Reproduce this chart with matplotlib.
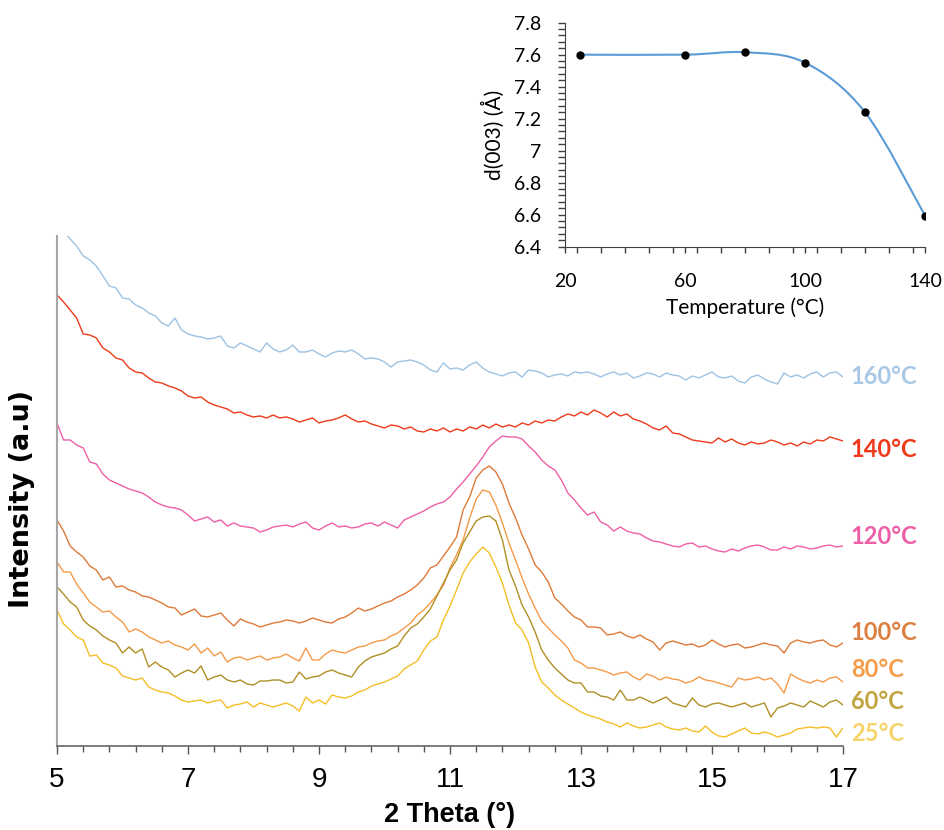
import matplotlib
matplotlib.use("Agg")
import matplotlib.pyplot as plt
import numpy as np
from matplotlib.path import Path
from matplotlib.patches import PathPatch
from matplotlib.ticker import MultipleLocator, FixedLocator, FuncFormatter

# XRD patterns, 2 theta grid (degrees) and intensities (a.u.)
two_theta = [5.0, 5.1, 5.2, 5.3, 5.4, 5.5, 5.6, 5.7, 5.8, 5.9,
             6.0, 6.1, 6.2, 6.3, 6.4, 6.5, 6.6, 6.7, 6.8, 6.9,
             7.0, 7.1, 7.2, 7.3, 7.4, 7.5, 7.6, 7.7, 7.8, 7.9,
             8.0, 8.1, 8.2, 8.3, 8.4, 8.5, 8.6, 8.7, 8.8, 8.9,
             9.0, 9.1, 9.2, 9.3, 9.4, 9.5, 9.6, 9.7, 9.8, 9.9,
             10.0, 10.1, 10.2, 10.3, 10.4, 10.5, 10.6, 10.7, 10.8, 10.9,
             11.0, 11.1, 11.2, 11.3, 11.4, 11.5, 11.6, 11.7, 11.8, 11.9,
             12.0, 12.1, 12.2, 12.3, 12.4, 12.5, 12.6, 12.7, 12.8, 12.9,
             13.0, 13.1, 13.2, 13.3, 13.4, 13.5, 13.6, 13.7, 13.8, 13.9,
             14.0, 14.1, 14.2, 14.3, 14.4, 14.5, 14.6, 14.7, 14.8, 14.9,
             15.0, 15.1, 15.2, 15.3, 15.4, 15.5, 15.6, 15.7, 15.8, 15.9,
             16.0, 16.1, 16.2, 16.3, 16.4, 16.5, 16.6, 16.7, 16.8, 16.9,
             17.0]

i_160 = [522, 514, 507, 500, 490, 486, 480, 470, 460, 458,
         448, 447, 441, 438, 433, 430, 423, 420, 428, 416,
         412, 410, 409, 407, 408, 410, 400, 398, 403, 400,
         397, 394, 403, 397, 394, 396, 401, 394, 394, 396,
         392, 389, 393, 395, 394, 396, 392, 387, 388, 387,
         384, 379, 384, 385, 386, 384, 381, 376, 374, 383,
         377, 378, 376, 381, 384, 378, 374, 372, 370, 373,
         374, 369, 376, 375, 373, 369, 371, 372, 370, 374,
         373, 374, 372, 369, 372, 374, 371, 373, 368, 370,
         373, 372, 369, 373, 371, 370, 366, 370, 368, 371,
         374, 369, 368, 370, 365, 363, 369, 371, 367, 364,
         362, 373, 369, 371, 368, 372, 374, 369, 373, 374,
         369]
i_140 = [451, 444, 436, 428, 412, 411, 408, 398, 394, 388,
         386, 378, 374, 373, 368, 364, 363, 360, 358, 355,
         350, 348, 349, 344, 341, 339, 337, 333, 334, 331,
         329, 330, 328, 331, 328, 329, 327, 324, 326, 328,
         323, 325, 326, 328, 331, 327, 324, 325, 322, 320,
         318, 321, 320, 317, 319, 315, 314, 317, 315, 318,
         314, 317, 315, 319, 317, 321, 318, 322, 319, 321,
         319, 323, 321, 325, 323, 326, 325, 329, 332, 330,
         334, 331, 336, 333, 329, 334, 330, 332, 327, 325,
         322, 318, 316, 320, 313, 312, 309, 306, 305, 304,
         303, 308, 304, 307, 303, 301, 304, 302, 303, 306,
         304, 301, 303, 300, 304, 302, 306, 305, 309, 307,
         305]
i_120 = [323, 306, 306, 301, 298, 284, 282, 272, 266, 263,
         260, 257, 255, 253, 249, 244, 241, 239, 238, 236,
         231, 225, 227, 229, 224, 226, 220, 223, 220, 219,
         218, 214, 216, 219, 220, 221, 219, 222, 224, 218,
         216, 220, 223, 219, 220, 218, 219, 222, 223, 220,
         224, 221, 218, 226, 229, 232, 235, 239, 242, 244,
         249, 257, 264, 272, 280, 289, 299, 305, 310, 309,
         309, 307, 300, 294, 286, 280, 276, 266, 253, 246,
         238, 231, 234, 224, 221, 215, 219, 215, 213, 212,
         208, 205, 204, 202, 200, 199, 202, 203, 199, 200,
         197, 195, 194, 197, 195, 198, 200, 201, 199, 196,
         196, 199, 197, 200, 199, 197, 198, 200, 201, 199,
         200]
i_100 = [226, 215, 200, 194, 189, 180, 176, 166, 169, 159,
         160, 156, 154, 150, 149, 146, 143, 139, 138, 131,
         134, 137, 130, 129, 131, 133, 126, 120, 127, 124,
         122, 119, 121, 123, 124, 126, 125, 123, 125, 128,
         126, 124, 123, 127, 129, 133, 138, 135, 137, 140,
         143, 145, 149, 152, 156, 161, 168, 178, 181, 190,
         199, 209, 236, 249, 268, 276, 280, 274, 262, 243,
         228, 211, 197, 181, 174, 164, 148, 142, 135, 129,
         126, 119, 119, 118, 111, 112, 114, 110, 108, 111,
         107, 104, 96, 103, 105, 103, 101, 102, 99, 101,
         106, 102, 99, 101, 102, 98, 99, 101, 103, 101,
         100, 93, 103, 106, 104, 103, 105, 106, 101, 99,
         103]
i_80 = [184, 174, 174, 162, 153, 144, 139, 134, 135, 129,
        124, 114, 117, 114, 109, 106, 103, 105, 101, 99,
        96, 102, 93, 98, 90, 94, 84, 88, 89, 86,
        88, 90, 86, 88, 89, 92, 88, 85, 98, 86,
        86, 92, 96, 94, 93, 96, 99, 100, 103, 105,
        106, 110, 113, 118, 123, 131, 136, 143, 151, 161,
        178, 191, 206, 228, 247, 256, 254, 241, 223, 203,
        186, 168, 152, 138, 125, 118, 111, 105, 98, 86,
        83, 78, 78, 76, 74, 71, 73, 74, 69, 66,
        72, 70, 66, 69, 67, 66, 63, 65, 69, 66,
        65, 63, 61, 59, 68, 66, 67, 69, 66, 68,
        62, 53, 72, 68, 65, 63, 66, 64, 68, 69,
        64]
i_60 = [159, 152, 144, 139, 126, 120, 116, 110, 106, 103,
        93, 99, 93, 97, 79, 84, 79, 76, 69, 73,
        76, 73, 80, 66, 69, 71, 66, 64, 66, 62,
        61, 65, 65, 66, 66, 63, 64, 74, 67, 69,
        70, 74, 76, 73, 71, 69, 79, 85, 89, 91,
        93, 97, 100, 110, 118, 122, 129, 137, 150, 163,
        176, 186, 203, 214, 225, 229, 230, 225, 206, 176,
        160, 141, 129, 114, 96, 86, 78, 72, 66, 63,
        63, 54, 54, 50, 49, 46, 56, 46, 46, 49,
        46, 43, 46, 49, 43, 41, 39, 48, 41, 39,
        42, 43, 41, 39, 41, 43, 39, 41, 43, 29,
        38, 40, 43, 41, 39, 45, 42, 39, 44, 46,
        41]
i_25 = [136, 122, 116, 109, 106, 90, 91, 83, 81, 78,
        70, 68, 66, 68, 59, 56, 54, 53, 50, 46,
        44, 45, 46, 43, 45, 46, 38, 41, 42, 44,
        39, 43, 41, 39, 41, 43, 40, 35, 49, 43,
        46, 42, 51, 49, 48, 50, 54, 56, 60, 62,
        64, 67, 70, 77, 81, 85, 96, 105, 109, 126,
        140, 156, 173, 184, 192, 199, 193, 179, 163, 141,
        123, 116, 103, 79, 64, 58, 51, 46, 42, 38,
        34, 31, 29, 27, 24, 22, 19, 23, 20, 18,
        19, 21, 23, 19, 17, 16, 18, 15, 14, 20,
        14, 10, 9, 12, 15, 18, 13, 12, 14, 12,
        9, 11, 13, 17, 18, 19, 18, 19, 18, 9,
        18]

patterns = [i_160, i_140, i_120, i_100, i_80, i_60, i_25]
pattern_names = ["160°C", "140°C", "120°C", "100°C", "80°C", "60°C", "25°C"]
line_colors = ["#9EC2E4", "#EE3A1A", "#EE5FA7", "#DE7A38", "#F59A48", "#B08F24", "#F4BE26"]
label_colors = ["#A8C8E6", "#EE3A1A", "#EE5FA7", "#DC7F40", "#F49C48", "#C0A540", "#F6D46A"]
label_y = [369, 296, 209, 113, 76, 45, 13]

# inset: interlayer spacing vs temperature
temps = [25, 60, 80, 100, 120, 140]
d003 = [7.60, 7.60, 7.615, 7.55, 7.24, 6.594]

fig = plt.figure(figsize=(9.44, 8.30), dpi=100)
ax = fig.add_axes([0.0604, 0.1012, 0.8326, 0.6145])

for vals, c in zip(patterns, line_colors):
    ax.plot(two_theta, vals, color=c, lw=1.0)

ax.set_xlim(5, 17)
ax.set_ylim(0, 510)
ax.xaxis.set_major_locator(FixedLocator([5, 7, 9, 11, 13, 15, 17]))
ax.xaxis.set_minor_locator(FixedLocator(np.arange(5, 17.01, 0.4)))
ax.tick_params(axis="x", which="major", direction="out", length=6, width=1, color="#555555",
               labelsize=20, pad=9)
ax.tick_params(axis="x", which="minor", direction="out", length=4.5, width=1, color="#555555")
ax.set_yticks([])
for lab in ax.get_xticklabels():
    lab.set_fontfamily("Liberation Sans")
ax.spines["top"].set_visible(False)
ax.spines["right"].set_visible(False)
ax.spines["left"].set_color("#A6A6A6")
ax.spines["left"].set_linewidth(1.5)
ax.spines["bottom"].set_color("#666666")
ax.spines["bottom"].set_linewidth(1.2)

ax.set_xlabel("2 Theta (°)", fontsize=19.5, fontweight="bold", family="Liberation Sans")
ax.xaxis.set_label_coords(0.5, -0.135)
ax.xaxis.label.set_va("center")
ax.set_ylabel("Intensity (a.u)", fontsize=19.5, fontweight="bold", family="DejaVu Sans")
ax.yaxis.set_label_coords(-0.0445, 0.484)
ax.yaxis.label.set_va("center")

for name, c, y in zip(pattern_names, label_colors, label_y):
    ax.text(17.12, y, name, color=c, fontsize=17, fontweight="bold", family="Lato",
            ha="left", va="center", clip_on=False)

# inset
ins = fig.add_axes([0.5985, 0.7028, 0.3814, 0.2699])
ins.patch.set_alpha(0)
ins.set_xlim(20, 140)
ins.set_ylim(6.4, 7.8)

# smooth line through the points, like the spreadsheet's smoothed line
pts = list(zip(temps, d003))
verts = [pts[0]]
codes = [Path.MOVETO]
for k in range(len(pts) - 1):
    p0 = pts[k - 1] if k > 0 else pts[k]
    p1 = pts[k]
    p2 = pts[k + 1]
    p3 = pts[k + 2] if k + 2 < len(pts) else pts[k + 1]
    c1 = (p1[0] + (p2[0] - p0[0]) / 6, p1[1] + (p2[1] - p0[1]) / 6)
    c2 = (p2[0] - (p3[0] - p1[0]) / 6, p2[1] - (p3[1] - p1[1]) / 6)
    verts += [c1, c2, p2]
    codes += [Path.CURVE4] * 3
ins.add_patch(PathPatch(Path(verts, codes), facecolor="none", edgecolor="#5B9BD5", lw=1.5))
ins.plot(temps, d003, "o", color="black", ms=5, zorder=3)

ins.xaxis.set_major_locator(FixedLocator([20, 60, 100, 140]))
ins.xaxis.set_minor_locator(MultipleLocator(8))
ins.yaxis.set_major_locator(MultipleLocator(0.2))
ins.yaxis.set_minor_locator(MultipleLocator(0.04))
ins.yaxis.set_major_formatter(FuncFormatter(lambda v, p: f"{v:g}"))
ins.tick_params(which="both", direction="out", color="#404040", width=1)
ins.tick_params(axis="x", which="both", length=4, labelsize=14, pad=15)
ins.tick_params(axis="y", which="both", length=5, labelsize=14, pad=12)
for lab in ins.get_xticklabels() + ins.get_yticklabels():
    lab.set_fontfamily("Lato")
ins.spines["top"].set_visible(False)
ins.spines["right"].set_visible(False)
ins.spines["left"].set_color("#404040")
ins.spines["bottom"].set_color("#404040")
ins.set_xlabel("Temperature (°C)", fontsize=15, family="Lato")
ins.xaxis.set_label_coords(0.5, -0.274)
ins.xaxis.label.set_va("center")
ins.set_ylabel("d(003) (Å)", fontsize=15, family="Lato")
ins.yaxis.set_label_coords(-0.2, 0.5)
ins.yaxis.label.set_va("center")

fig.savefig("out.png", dpi=100)
